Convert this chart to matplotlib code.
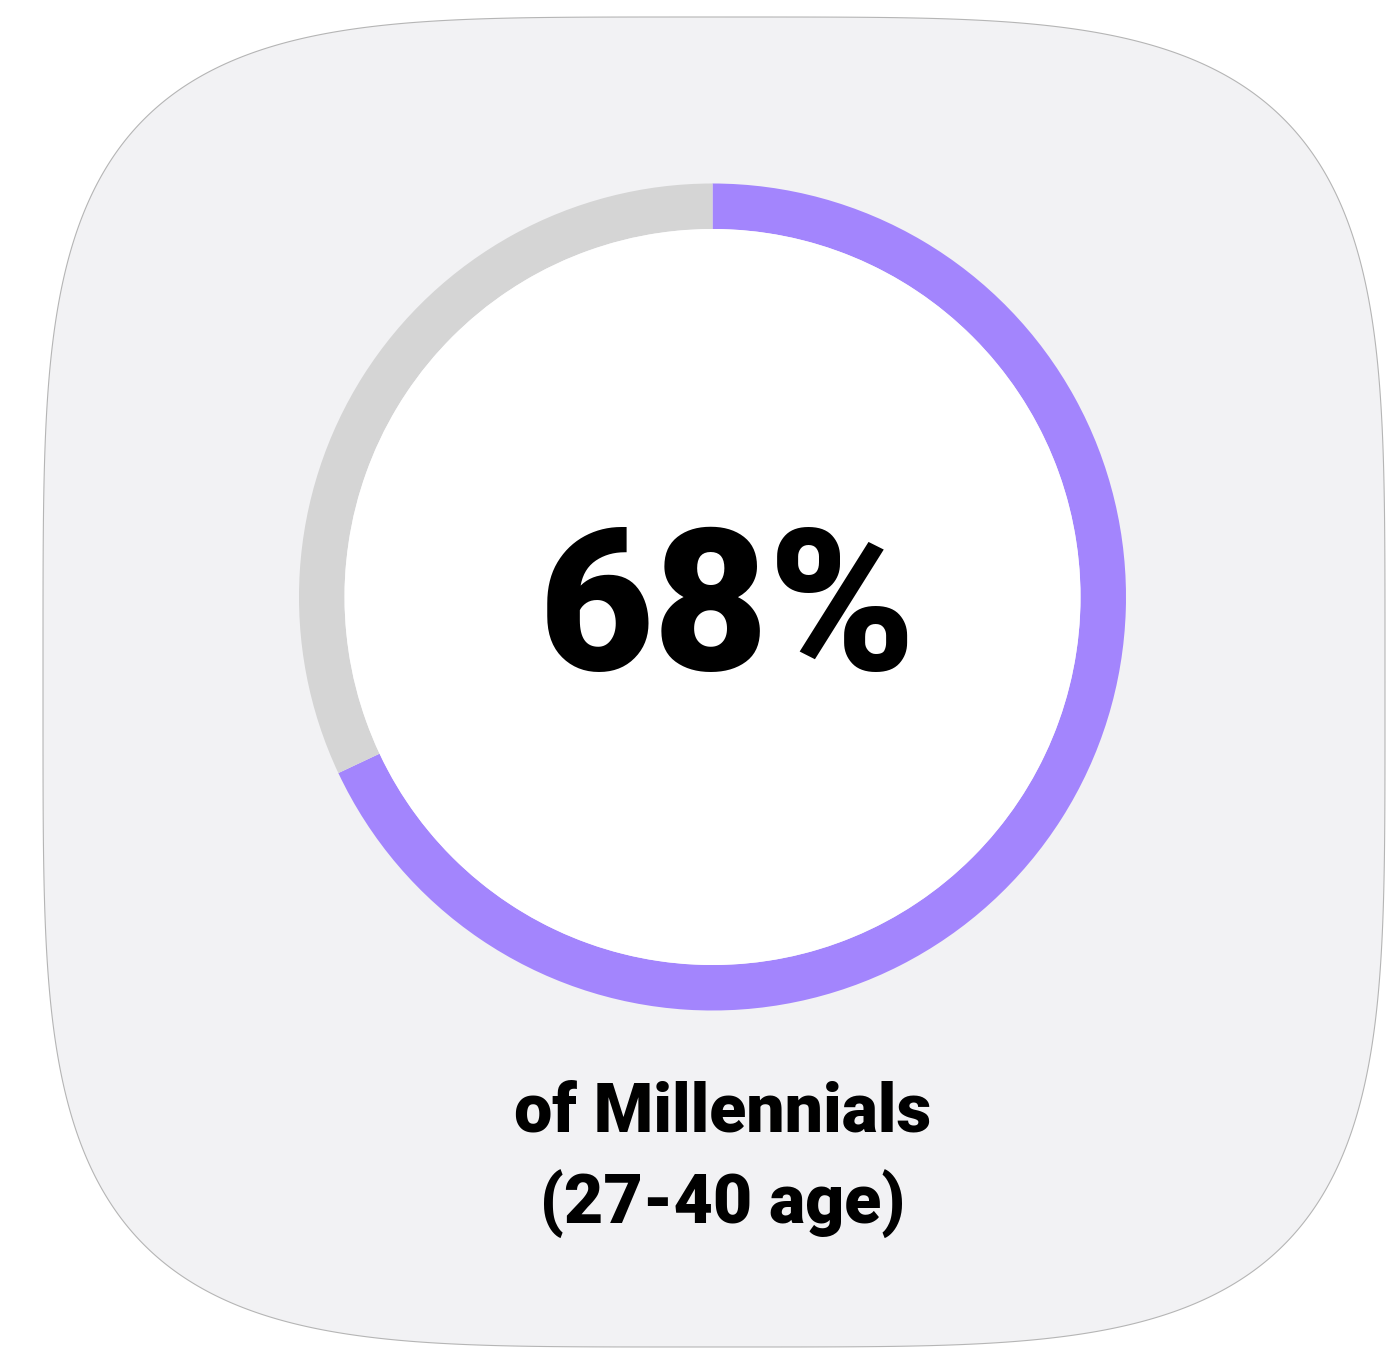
import numpy as np
import matplotlib
matplotlib.use("Agg")
import matplotlib.pyplot as plt
from matplotlib.patches import Polygon, Circle

# data
share_pct = 68
rest_pct = 100 - share_pct
big_label = f"{share_pct}%"
sub_label = "of Millennials\n(27-40 age)"

purple = "#a385fd"
ring_grey = "#d5d5d5"
card_fill = "#f2f2f4"

W, H = 1388, 1349
fig = plt.figure(figsize=(W / 100, H / 100), dpi=100)
fig.patch.set_facecolor("white")

# background card in pixel coords
bg = fig.add_axes([0, 0, 1, 1])
bg.set_xlim(0, W)
bg.set_ylim(H, 0)
bg.axis("off")

cx, cy, a, b, n = 714, 682, 671, 665, 4.2
t = np.linspace(0, 2 * np.pi, 800)
ct, st = np.cos(t), np.sin(t)
px = cx + a * np.sign(ct) * np.abs(ct) ** (2 / n)
py = cy + b * np.sign(st) * np.abs(st) ** (2 / n)
bg.add_patch(Polygon(np.column_stack([px, py]), closed=True,
                     facecolor=card_fill, edgecolor="#b5b5b5", lw=0.8))

# donut
dx, dy, r_out, ring_w = 712.5, 597, 413.5, 45.5
dax = fig.add_axes([(dx - r_out) / W, (H - dy - r_out) / H,
                    2 * r_out / W, 2 * r_out / H])
dax.pie([share_pct, rest_pct], colors=[purple, ring_grey], startangle=90,
        counterclock=False, radius=1,
        wedgeprops=dict(width=ring_w / r_out, linewidth=0))
dax.add_patch(Circle((0, 0), 1 - ring_w / r_out, facecolor="white", lw=0))
dax.set_xlim(-1, 1)
dax.set_ylim(-1, 1)
dax.set_aspect("equal")
dax.axis("off")

fam = ["Roboto", "DejaVu Sans"]
fig.text(728 / W, 1 - 670 / H, big_label, ha="center", va="baseline",
         fontsize=143, fontweight="black", family=fam, color="black")
fig.text(723 / W, 1 - 1160 / H, sub_label, ha="center", va="center",
         fontsize=49, fontweight="black", family=fam, color="black",
         linespacing=1.46)

fig.savefig("out.png", dpi=100, facecolor="white")
